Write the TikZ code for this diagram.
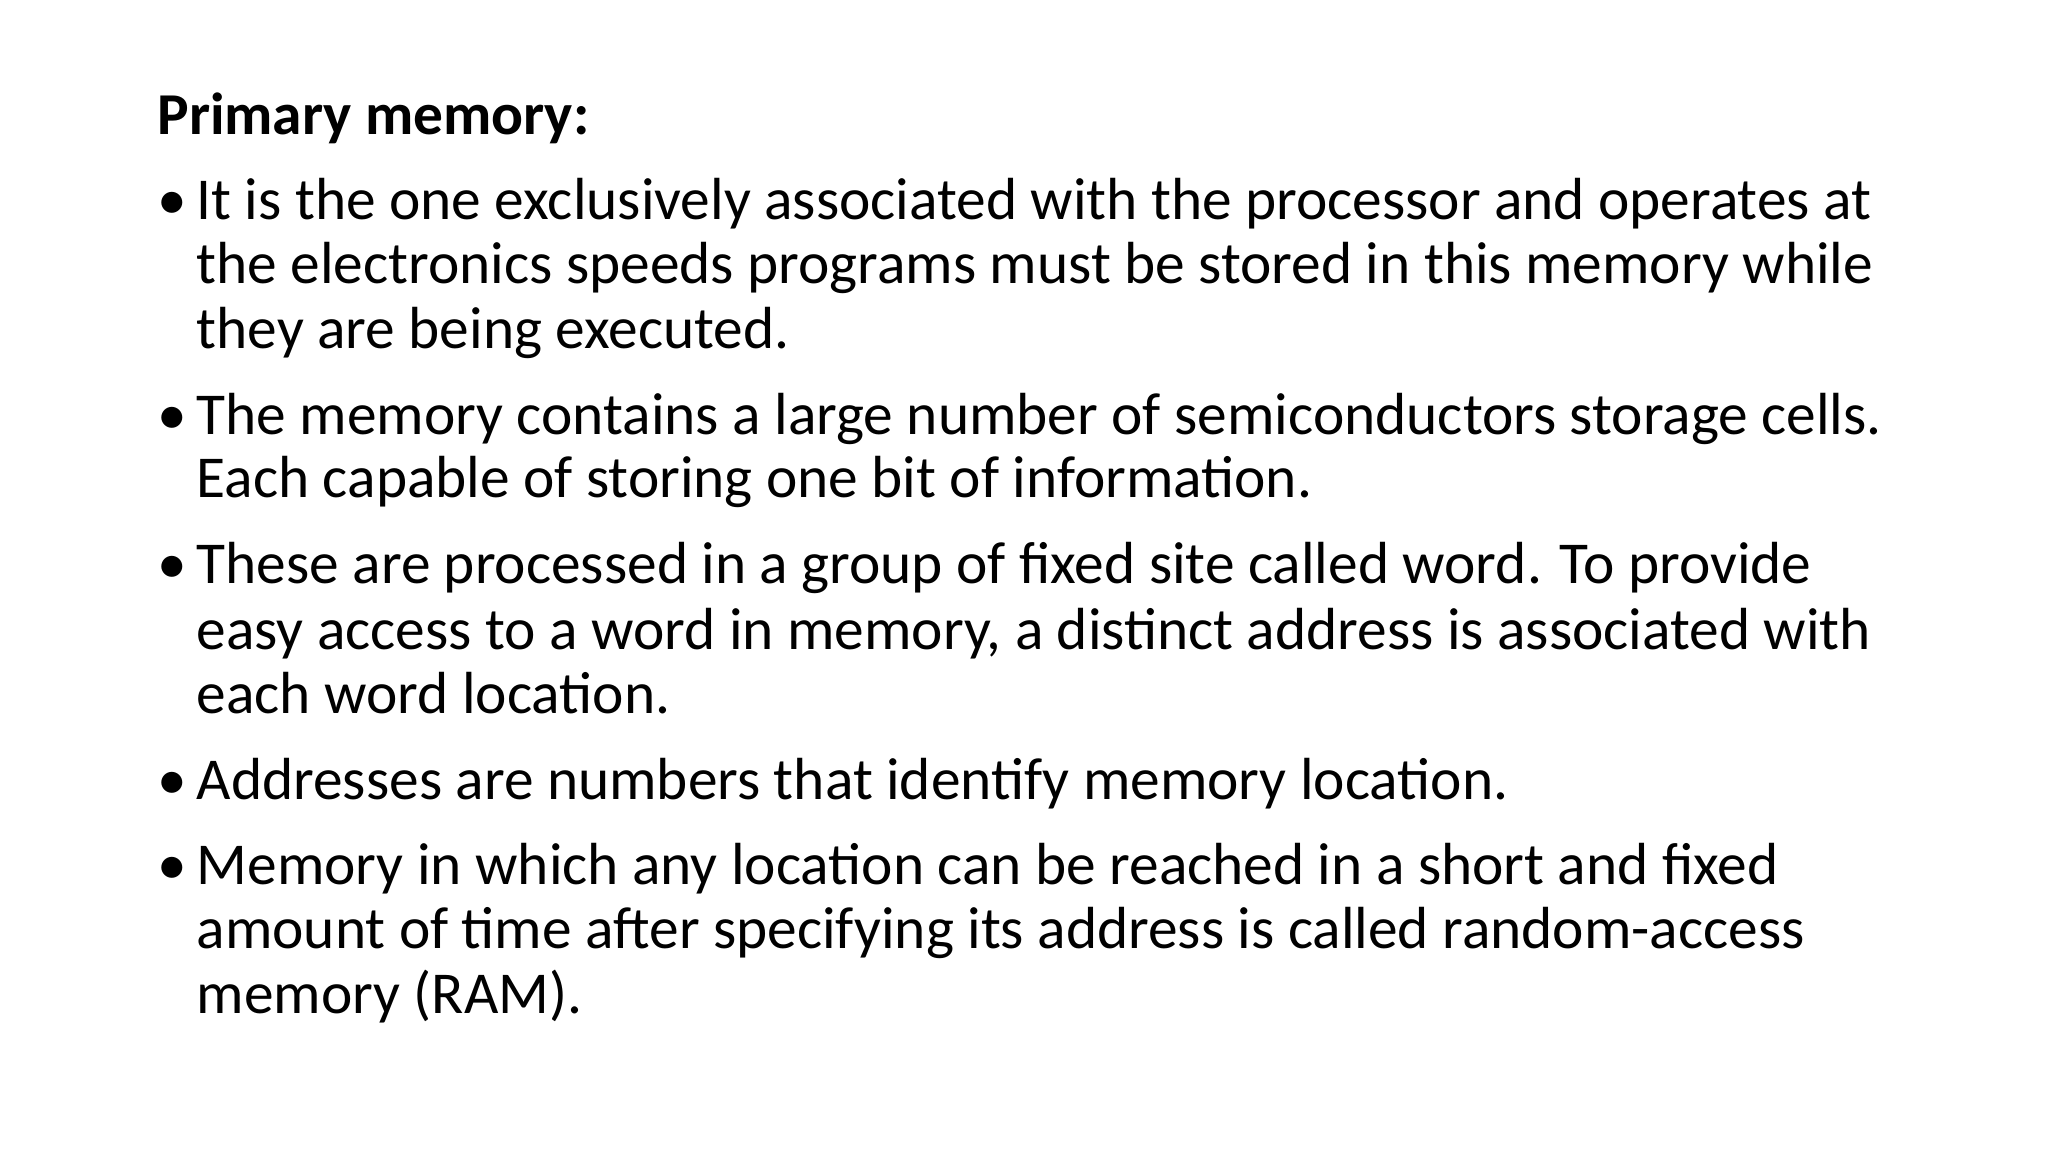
\documentclass[tikz,border=0pt]{standalone}
\usepackage{fontspec}
\setmainfont{Carlito}
\begin{document}
\begin{tikzpicture}[txt/.style={anchor=base west,inner sep=0pt,font=\fontsize{16.9}{20}\selectfont}]
\useasboundingbox (0,0) rectangle (20.48,11.52);
\fill[white] (0,0) rectangle (20.48,11.52);
\node[txt,font=\fontsize{16.9}{20}\selectfont\bfseries] (title) at (1.567,10.175) {Primary memory:};
\foreach \y [count=\i] in {9.326,7.171,5.682,3.527,2.678}
  \node[txt] (b\i) at (1.567,\y) {•};
\node[txt] (l1) at (1.96,9.326) {It is the one exclusively associated with the processor and operates at};
\node[txt] (l2) at (1.96,8.686) {the electronics speeds programs must be stored in this memory while};
\node[txt] (l3) at (1.96,8.033) {they are being executed.};
\node[txt] (l4) at (1.96,7.171) {The memory contains a large number of semiconductors storage cells.};
\node[txt] (l5) at (1.96,6.544) {Each capable of storing one bit of information.};
\node[txt] (l6) at (1.96,5.682) {These are processed in a group of fixed site called word. To provide};
\node[txt] (l7) at (1.96,5.029) {easy access to a word in memory, a distinct address is associated with};
\node[txt] (l8) at (1.96,4.389) {each word location.};
\node[txt] (l9) at (1.96,3.527) {Addresses are numbers that identify memory location.};
\node[txt] (l10) at (1.96,2.678) {Memory in which any location can be reached in a short and fixed};
\node[txt] (l11) at (1.96,2.038) {amount of time after specifying its address is called random-access};
\node[txt] (l12) at (1.96,1.385) {memory (RAM).};
\end{tikzpicture}
\end{document}
